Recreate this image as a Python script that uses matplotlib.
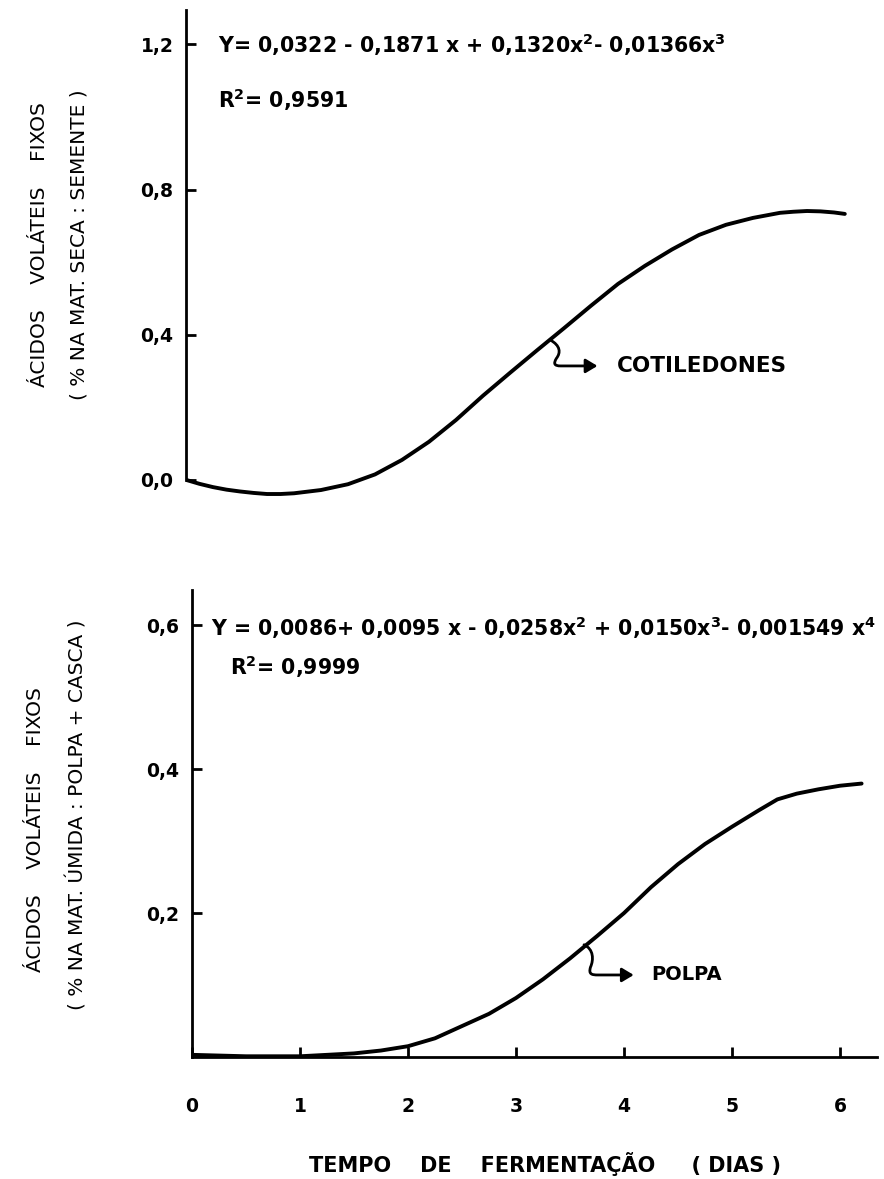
import matplotlib
matplotlib.use("Agg")
import matplotlib.pyplot as plt
from matplotlib.path import Path
from matplotlib.patches import FancyArrowPatch

# ---- data ----
days_cot = [0.0, 0.125, 0.25, 0.375, 0.5, 0.625, 0.75, 0.875, 1.0, 1.25, 1.5, 1.75,
            2.0, 2.25, 2.5, 2.75, 3.0, 3.25, 3.5, 3.75, 4.0, 4.25, 4.5, 4.75, 5.0,
            5.25, 5.5, 5.625, 5.75, 5.875, 6.0, 6.1]
acid_cot = [0.000, -0.011, -0.020, -0.027, -0.032, -0.036, -0.039, -0.039, -0.037,
            -0.028, -0.012, 0.015, 0.055, 0.105, 0.165, 0.232, 0.295, 0.357, 0.418,
            0.480, 0.540, 0.590, 0.635, 0.675, 0.703, 0.722, 0.736, 0.739, 0.741,
            0.740, 0.737, 0.733]

days_pol = [0.0, 0.5, 1.0, 1.5, 1.75, 2.0, 2.25, 2.5, 2.75, 3.0, 3.25, 3.5, 3.75, 4.0,
            4.25, 4.5, 4.75, 5.0, 5.25, 5.42, 5.6, 5.8, 6.0, 6.2]
acid_pol = [0.003, 0.001, 0.001, 0.005, 0.009, 0.015, 0.026, 0.043, 0.060, 0.082,
            0.108, 0.137, 0.168, 0.200, 0.236, 0.268, 0.296, 0.320, 0.343, 0.358,
            0.366, 0.372, 0.377, 0.380]

x_ticks = [0, 1, 2, 3, 4, 5, 6]
x_tick_labels = ["0", "1", "2", "3", "4", "5", "6"]
top_yticks = [0.0, 0.4, 0.8, 1.2]
top_ytick_labels = ["0,0", "0,4", "0,8", "1,2"]
bot_yticks = [0.2, 0.4, 0.6]
bot_ytick_labels = ["0,2", "0,4", "0,6"]

eq_top = "Y= 0,0322 - 0,1871 x + 0,1320x$^{2}$- 0,01366x$^{3}$"
r2_top = "R$^{2}$= 0,9591"
eq_bot = "Y = 0,0086+ 0,0095 x - 0,0258x$^{2}$ + 0,0150x$^{3}$- 0,001549 x$^{4}$"
r2_bot = "R$^{2}$= 0,9999"

plt.rcParams['font.family'] = ['DejaVu Sans']
plt.rcParams['mathtext.fontset'] = 'dejavusans'
plt.rcParams['mathtext.default'] = 'bf'

W, H = 884, 1179
fig = plt.figure(figsize=(W / 100, H / 100), dpi=100)

def frac(x0, y0, x1, y1):
    return [x0 / W, 1 - y1 / H, (x1 - x0) / W, (y1 - y0) / H]

lw_curve = 2.8
lw_axis = 2.0
tfs = 13.5
efs = 14.8

# ---------------- top panel ----------------
ax1 = fig.add_axes(frac(186, 10, 186 + 6.34 * 108, 498))
ax1.set_xlim(0, 6.34)
ax1.set_ylim(-0.05, 1.295)
ax1.plot(days_cot, acid_cot, color="black", lw=lw_curve,
         solid_capstyle="round", solid_joinstyle="round")
for s in ["top", "right", "bottom"]:
    ax1.spines[s].set_visible(False)
ax1.spines["left"].set_linewidth(lw_axis)
ax1.spines["left"].set_bounds(0, 1.295)
ax1.set_xticks([])
ax1.set_yticks(top_yticks)
ax1.set_yticklabels(top_ytick_labels, fontsize=tfs, fontweight="bold")
ax1.tick_params(axis="y", direction="in", length=7, width=2, pad=9)
ax1.text(0.30, 1.2, eq_top, fontsize=efs, fontweight="bold", va="center", ha="left")
ax1.text(0.30, 1.047, r2_top, fontsize=efs, fontweight="bold", va="center", ha="left")

p1 = Path([(3.37, 0.386), (3.47, 0.37), (3.47, 0.35), (3.43, 0.335),
           (3.40, 0.32), (3.41, 0.314), (3.47, 0.314), (3.81, 0.314)],
          [Path.MOVETO, Path.CURVE4, Path.CURVE4, Path.CURVE4,
           Path.CURVE4, Path.CURVE4, Path.CURVE4, Path.LINETO])
ax1.add_patch(FancyArrowPatch(path=p1, arrowstyle="-|>,head_length=0.5,head_width=0.3",
                              mutation_scale=14, color="black", lw=2))
ax1.text(3.99, 0.314, "COTILEDONES", fontsize=15.5, fontweight="bold",
         va="center", ha="left")

fig.text(40 / W, 1 - 245 / H, "ÁCIDOS    VOLÁTEIS    FIXOS", rotation=90,
         fontsize=14.5, ha="center", va="center")
fig.text(79 / W, 1 - 245 / H, "( % NA MAT. SECA : SEMENTE )", rotation=90,
         fontsize=14.5, ha="center", va="center")

# ---------------- bottom panel ----------------
ax2 = fig.add_axes(frac(192, 590, 192 + 6.34 * 108, 1057))
ax2.set_xlim(0, 6.34)
ax2.set_ylim(0, 0.649)
ax2.plot(days_pol, acid_pol, color="black", lw=lw_curve,
         solid_capstyle="round", solid_joinstyle="round")
for s in ["top", "right"]:
    ax2.spines[s].set_visible(False)
ax2.spines["left"].set_linewidth(lw_axis)
ax2.spines["bottom"].set_linewidth(lw_axis)
ax2.set_xticks(x_ticks)
ax2.set_xticklabels(x_tick_labels, fontsize=tfs, fontweight="bold")
ax2.set_yticks(bot_yticks)
ax2.set_yticklabels(bot_ytick_labels, fontsize=tfs, fontweight="bold")
ax2.tick_params(axis="y", direction="in", length=7, width=2, pad=9)
ax2.tick_params(axis="x", direction="in", length=7, width=2, pad=29)
ax2.text(0.18, 0.597, eq_bot, fontsize=efs, fontweight="bold", va="center", ha="left")
ax2.text(0.35, 0.542, r2_bot, fontsize=efs, fontweight="bold", va="center", ha="left")

p2 = Path([(3.63, 0.156), (3.72, 0.15), (3.72, 0.135), (3.69, 0.125),
           (3.67, 0.115), (3.70, 0.114), (3.76, 0.114), (4.09, 0.114)],
          [Path.MOVETO, Path.CURVE4, Path.CURVE4, Path.CURVE4,
           Path.CURVE4, Path.CURVE4, Path.CURVE4, Path.LINETO])
ax2.add_patch(FancyArrowPatch(path=p2, arrowstyle="-|>,head_length=0.5,head_width=0.3",
                              mutation_scale=14, color="black", lw=2))
ax2.text(4.25, 0.114, "POLPA", fontsize=14, fontweight="bold", va="center", ha="left")

fig.text(36 / W, 1 - 830 / H, "ÁCIDOS    VOLÁTEIS    FIXOS", rotation=90,
         fontsize=14.5, ha="center", va="center")
fig.text(77 / W, 1 - 815 / H, "( % NA MAT. ÚMIDA : POLPA + CASCA )", rotation=90,
         fontsize=14.5, ha="center", va="center")

fig.text(545 / W, 1 - 1164 / H, "TEMPO    DE    FERMENTAÇÃO     ( DIAS )",
         fontsize=15, fontweight="bold", ha="center", va="center")

fig.savefig("out.png", dpi=100)
